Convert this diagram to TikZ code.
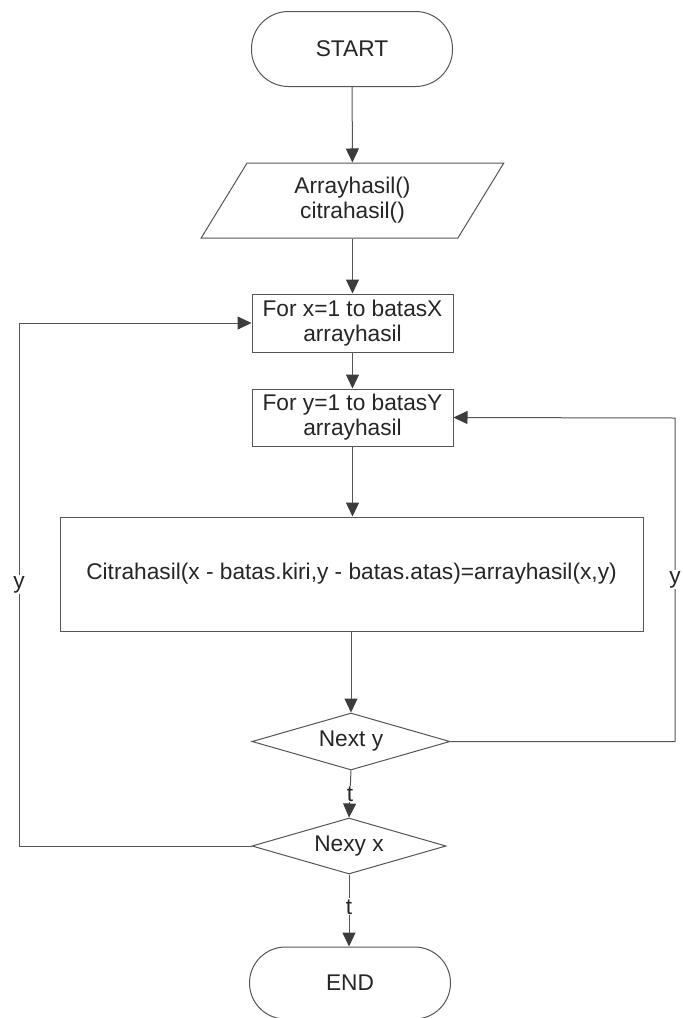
\documentclass[tikz,border=0pt]{standalone}
\usepackage{fontspec}
\setmainfont{Liberation Sans}
\usetikzlibrary{arrows.meta,shapes.geometric}
\definecolor{ln}{HTML}{555555}
\definecolor{tx}{HTML}{262626}
\tikzset{
  base/.style={draw=ln, line width=1pt, font=\fontsize{22.7}{25}\selectfont, text=tx, align=center, inner sep=0pt},
  term/.style={base, rectangle, minimum width=201pt, minimum height=75pt, rounded corners=37pt},
  proc/.style={base, rectangle, minimum width=201pt, minimum height=57pt},
  bigproc/.style={base, rectangle, minimum width=583pt, minimum height=114pt},
  io/.style={base, trapezium, trapezium left angle=61.3, trapezium right angle=118.7, trapezium stretches=true, minimum width=303pt, minimum height=75pt},
  dec/.style={base, diamond, aspect=3.5, minimum width=198pt, minimum height=57pt},
  arr/.style={draw=ln, line width=1pt, -{Triangle[length=14pt,width=13pt,fill=tx!90,color=tx!90]}},
  lbl/.style={fill=white, text=tx, font=\fontsize{22.7}{25}\selectfont, inner sep=1pt}
}
\begin{document}
\begin{tikzpicture}[x=1pt,y=-1pt]
\fill[white] (0,0) rectangle (683,1018);
\useasboundingbox (0,0) rectangle (683,1018);

\node[term] (start) at (352,49) {START};
\node[io] (inp) at (352.5,200.5) {Arrayhasil()\\citrahasil()};
\node[proc, minimum height=58pt] (fx) at (352.5,323) {For x=1 to batasX\\arrayhasil};
\node[proc] (fy) at (352.5,417.5) {For y=1 to batasY\\arrayhasil};
\node[bigproc] (calc) at (351.5,574) {Citrahasil(x - batas.kiri,y - batas.atas)=arrayhasil(x,y)};
\node[dec] (ny) at (351,741.5) {Next y};
\node[dec, minimum width=194pt, minimum height=56pt] (nx) at (349,846) {Nexy x};
\node[term, minimum height=72pt, rounded corners=36pt] (end) at (350,983) {END};

\coordinate (L) at (19,323);
\coordinate (R) at (675,418);

\draw[arr] (start) -- (inp);
\draw[arr] (inp) -- (fx);
\draw[arr] (fx) -- (fy);
\draw[arr] (fy) -- (fy |- calc.north);
\draw[arr] (calc.south -| ny.north) -- (ny.north);
\draw[arr] (ny.south) -- node[lbl] {t} (nx.north);
\draw[arr] (nx.south) -- node[lbl, pos=0.45] {t} (nx.south |- end.north);

\draw[arr] (nx.west) -| node[lbl, pos=0.75] {y} (L) -- (fx.west);
\draw[arr] (ny.east) -| node[lbl, pos=0.75] {y} (R) -- (fy.east);
\end{tikzpicture}
\end{document}
